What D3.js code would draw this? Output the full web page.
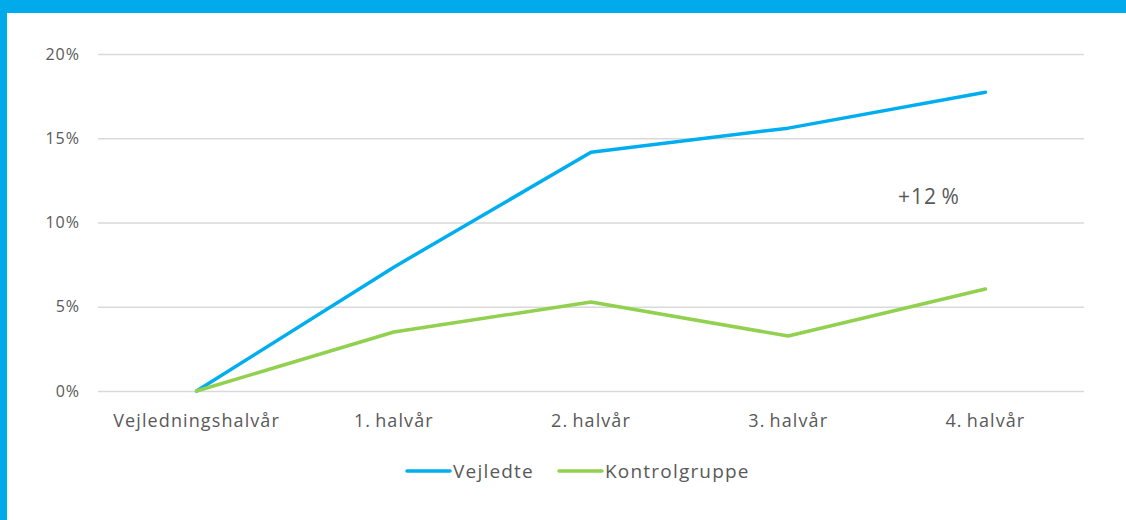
<!DOCTYPE html>
<html>
<head>
<meta charset="utf-8">
<script src="https://cdn.jsdelivr.net/npm/d3@7"></script>
<style>
  body { margin: 0; background: #fff; }
  svg { display: block; font-family: "Open Sans", sans-serif; }
</style>
</head>
<body>
<div id="chart"></div>
<script>
// data
const categories = ["Vejledningshalvår", "1.\u2009halvår", "2.\u2009halvår", "3.\u2009halvår", "4.\u2009halvår"];
const vejledte = [0, 7.35, 14.17, 15.6, 17.73];
const kontrolgruppe = [0, 3.5, 5.28, 3.26, 6.05];
const yTicks = [0, 5, 10, 15, 20];
const annotation = "+12\u2009%";

const width = 1126, height = 520;
const blue = "#00AEEF", green = "#92D050", textColor = "#595959";

const svg = d3.select("#chart").append("svg")
    .attr("width", width)
    .attr("height", height);

// frame: top bar and left border
svg.append("rect").attr("x", 0).attr("y", 0).attr("width", width).attr("height", 13).attr("fill", "#00AAEB");
svg.append("rect").attr("x", 0).attr("y", 0).attr("width", 7).attr("height", height).attr("fill", "#00AAEB");

const xScale = d3.scaleBand()
    .domain(categories)
    .range([98, 1084]);

const yScale = d3.scaleLinear()
    .domain([0, 20])
    .range([391, 54]);

// gridlines
svg.append("g")
    .selectAll("line")
    .data(yTicks)
    .enter().append("line")
    .attr("x1", 98)
    .attr("x2", 1084)
    .attr("y1", d => yScale(d) + 0.5)
    .attr("y2", d => yScale(d) + 0.5)
    .attr("stroke", "#D9D9D9")
    .attr("stroke-width", 1.5);

// y tick labels
svg.append("g")
    .selectAll("text")
    .data(yTicks)
    .enter().append("text")
    .attr("x", 80)
    .attr("y", d => yScale(d))
    .attr("dy", "0.35em")
    .attr("text-anchor", "end")
    .attr("fill", textColor)
    .style("font-size", "16px")
    .style("letter-spacing", "1px")
    .text(d => d + "%");

// x labels
svg.append("g")
    .selectAll("text")
    .data(categories)
    .enter().append("text")
    .attr("x", d => xScale(d) + xScale.bandwidth() / 2)
    .attr("y", 421)
    .attr("dy", "0.35em")
    .attr("text-anchor", "middle")
    .attr("fill", textColor)
    .style("font-size", "18px")
    .style("letter-spacing", "1.1px")
    .text(d => d);

const line = d3.line()
    .x((d, i) => xScale(categories[i]) + xScale.bandwidth() / 2)
    .y(d => yScale(d));

const series = [
    { name: "Vejledte", values: vejledte, color: blue },
    { name: "Kontrolgruppe", values: kontrolgruppe, color: green }
];

series.forEach(s => {
    svg.append("path")
        .datum(s.values)
        .attr("fill", "none")
        .attr("stroke", s.color)
        .attr("stroke-width", 3.5)
        .attr("stroke-linecap", "round")
        .attr("stroke-linejoin", "round")
        .attr("d", line);
});

// annotation
svg.append("text")
    .attr("x", 929)
    .attr("y", 197)
    .attr("dy", "0.35em")
    .attr("text-anchor", "middle")
    .attr("fill", textColor)
    .style("font-size", "21px")
    .style("letter-spacing", "1px")
    .text(annotation);

// legend
const legendX = [407, 559];
const legend = svg.append("g")
    .selectAll("g")
    .data(series)
    .enter().append("g")
    .attr("transform", (d, i) => `translate(${legendX[i]},471)`);

legend.append("line")
    .attr("x1", 0)
    .attr("x2", 43)
    .attr("stroke", d => d.color)
    .attr("stroke-width", 3.5)
    .attr("stroke-linecap", "round");

legend.append("text")
    .attr("x", 46)
    .attr("dy", "0.35em")
    .attr("fill", textColor)
    .style("font-size", "19px")
    .style("letter-spacing", "1.2px")
    .text(d => d.name);
</script>
</body>
</html>
